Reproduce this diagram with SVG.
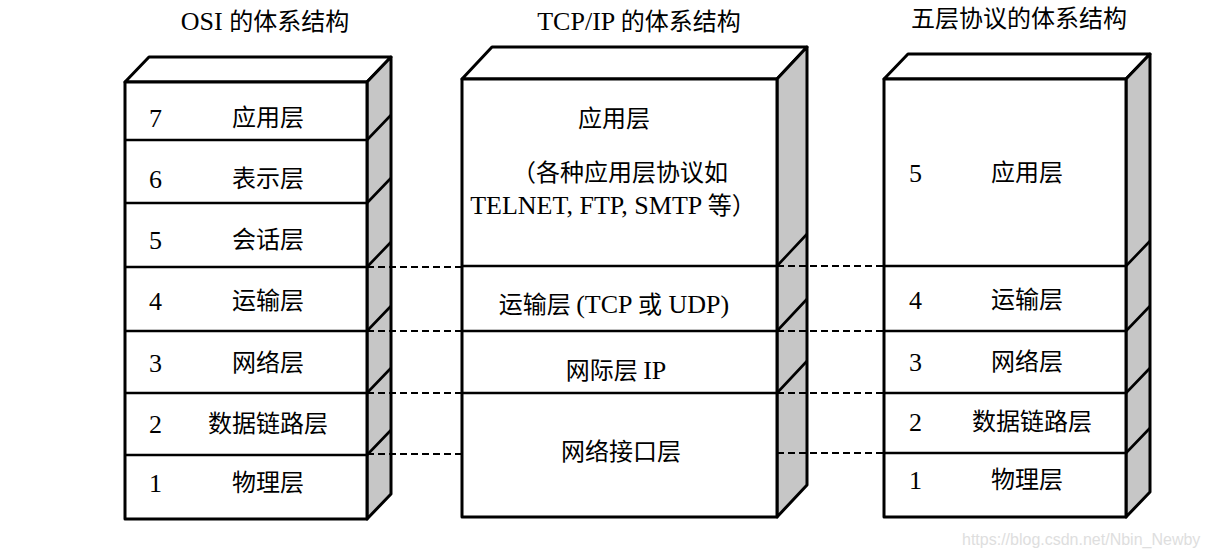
<svg xmlns="http://www.w3.org/2000/svg" width="1208" height="554" viewBox="0 0 1208 554">
<style>
.face{fill:#fff;stroke:#000;stroke-width:3;stroke-linejoin:round}
.side{fill:#c6c6c6;stroke:#000;stroke-width:3;stroke-linejoin:round}
.div{stroke:#000;stroke-width:2.6;fill:none}
.dash{stroke:#000;stroke-width:1.8;stroke-dasharray:7 4;fill:none}
.c{font-family:"Noto Sans CJK SC","Liberation Sans",sans-serif;font-size:24px;fill:#000;text-anchor:middle}
.m{font-family:"Liberation Serif","Noto Sans CJK SC",serif;font-size:26px;fill:#000;text-anchor:middle}
.n{font-family:"Liberation Serif",serif;font-size:26px;fill:#000}
.wm{font-family:"Liberation Sans",sans-serif;font-size:16px;fill:#dedede}
</style>
<rect width="1208" height="554" fill="#fff"/>

<g id="title-osi"><text class="m" x="265" y="30">OSI <tspan font-family="Noto Sans CJK SC" font-size="24">的体系结构</tspan></text></g>
<g id="title-tcpip"><text class="m" x="639" y="30">TCP/IP <tspan font-family="Noto Sans CJK SC" font-size="24">的体系结构</tspan></text></g>
<g id="title-five"><text class="c" x="1019" y="27" font-size="25">五层协议的体系结构</text></g>

<g id="osi">
  <polygon class="face" points="125,82 149,57 391,57 367,82"/>
  <polygon class="side" points="367,82 391,57 391,494 367,519"/>
  <rect class="face" x="125" y="82" width="242" height="437"/>
  <path class="div" d="M125,140H367M125,203H367M125,267H367M125,331H367M125,393H367M125,455H367"/>
  <path class="div" d="M367,140L391,115M367,203L391,178M367,267L391,242M367,331L391,306M367,393L391,368M367,455L391,430"/>
  <text class="n" x="149" y="127">7</text><text class="c" x="268" y="126">应用层</text>
  <text class="n" x="149" y="188">6</text><text class="c" x="268" y="187">表示层</text>
  <text class="n" x="149" y="249">5</text><text class="c" x="268" y="248">会话层</text>
  <text class="n" x="149" y="310">4</text><text class="c" x="268" y="309">运输层</text>
  <text class="n" x="149" y="372">3</text><text class="c" x="268" y="371">网络层</text>
  <text class="n" x="149" y="433">2</text><text class="c" x="268" y="432">数据链路层</text>
  <text class="n" x="149" y="492">1</text><text class="c" x="268" y="491">物理层</text>
</g>

<g id="tcpip">
  <polygon class="face" points="462,79 492,47 807,47 777,79"/>
  <polygon class="side" points="777,79 807,47 807,485 777,517"/>
  <rect class="face" x="462" y="79" width="315" height="438"/>
  <path class="div" d="M462,266H777M462,331H777M462,393H777"/>
  <path class="div" d="M777,266L807,234M777,331L807,299M777,393L807,361"/>
  <text class="c" x="614" y="127">应用层</text>
  <text class="c" x="620" y="181">（各种应用层协议如</text>
  <text class="m" x="613" y="214">TELNET, FTP, SMTP <tspan font-family="Noto Sans CJK SC" font-size="24">等）</tspan></text>
  <text class="c" x="614" y="313">运输层 <tspan font-family="Liberation Serif" font-size="26">(TCP </tspan>或<tspan font-family="Liberation Serif" font-size="26"> UDP)</tspan></text>
  <text class="c" x="616" y="379">网际层 <tspan font-family="Liberation Serif" font-size="26">IP</tspan></text>
  <text class="c" x="621" y="460">网络接口层</text>
</g>

<g id="five">
  <polygon class="face" points="884,79 908,54 1150,54 1126,79"/>
  <polygon class="side" points="1126,79 1150,54 1150,492 1126,517"/>
  <rect class="face" x="884" y="79" width="242" height="438"/>
  <path class="div" d="M884,266H1126M884,331H1126M884,393H1126M884,453H1126"/>
  <path class="div" d="M1126,266L1150,241M1126,331L1150,306M1126,393L1150,368M1126,453L1150,428"/>
  <text class="n" x="909" y="182">5</text><text class="c" x="1027" y="181">应用层</text>
  <text class="n" x="909" y="309">4</text><text class="c" x="1027" y="308">运输层</text>
  <text class="n" x="909" y="371">3</text><text class="c" x="1027" y="370">网络层</text>
  <text class="n" x="909" y="431">2</text><text class="c" x="1032" y="430">数据链路层</text>
  <text class="n" x="909" y="489">1</text><text class="c" x="1027" y="488">物理层</text>
</g>

<g id="connectors">
  <path class="dash" d="M367,267H462M367,331H462M367,393H462M367,454H462"/>
  <path class="dash" d="M777,266H884M777,331H884M777,393H884M777,453H884"/>
</g>

<text class="wm" x="962" y="545">https://blog.csdn.net/Nbin_Newby</text>
</svg>
